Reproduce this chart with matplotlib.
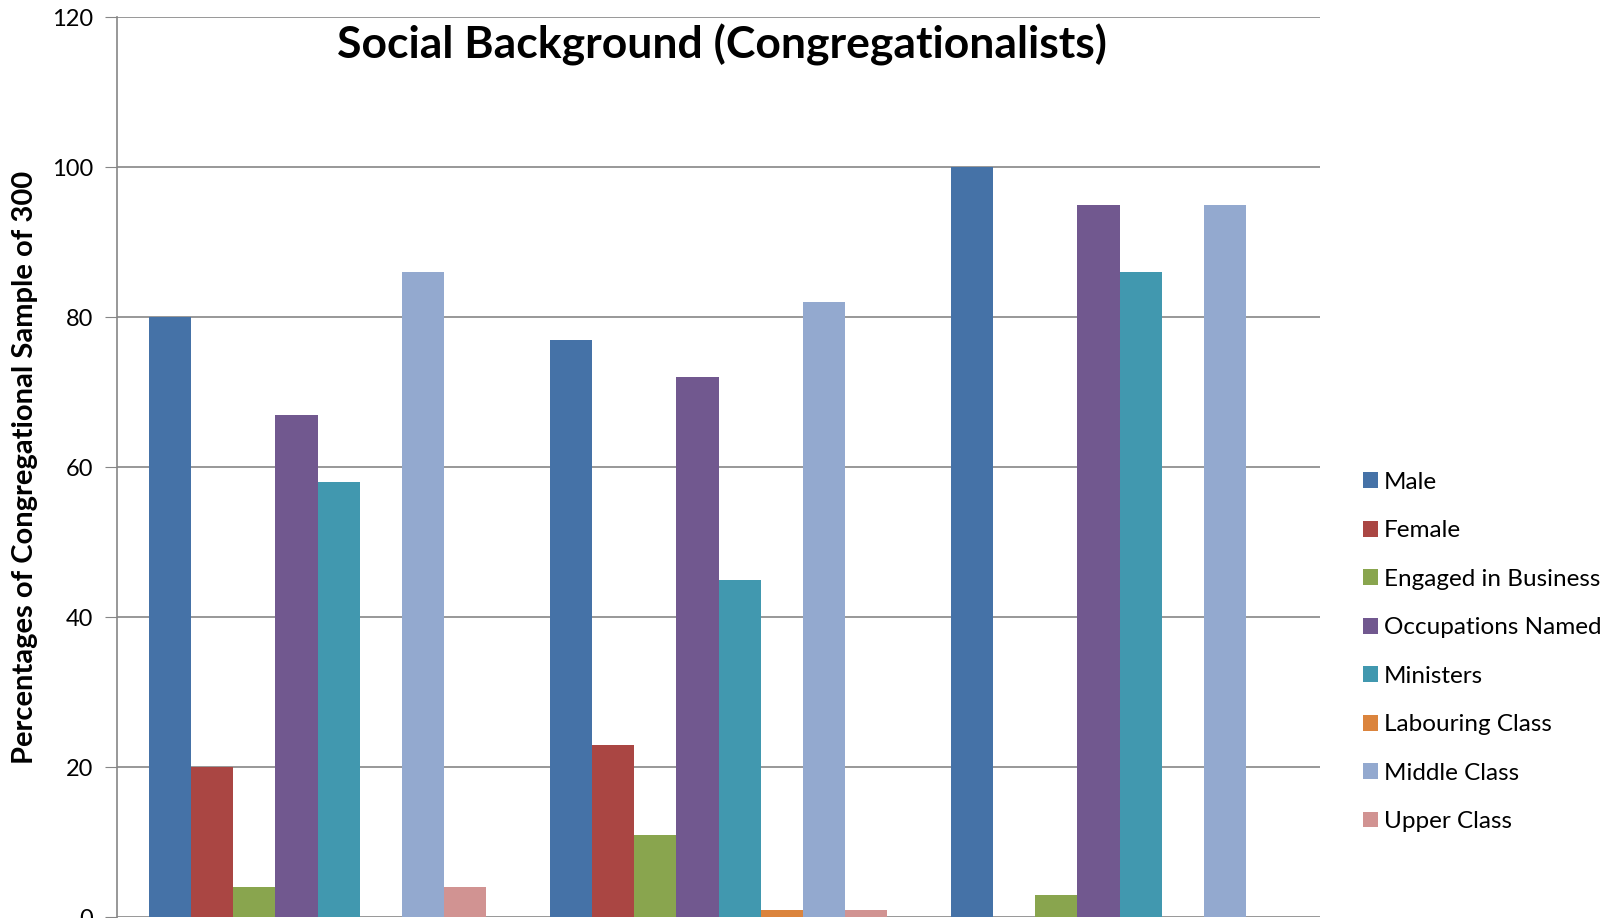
import numpy as np
import matplotlib.pyplot as plt

plt.rcParams['font.family'] = ['Lato', 'DejaVu Sans']

groups = ['Group 1', 'Group 2', 'Group 3']
series = ['Male', 'Female', 'Engaged in Business', 'Occupations Named',
          'Ministers', 'Labouring Class', 'Middle Class', 'Upper Class']
male = [80, 77, 100]
female = [20, 23, 0]
business = [4, 11, 3]
occupations = [67, 72, 95]
ministers = [58, 45, 86]
labouring = [0, 1, 0]
middle = [86, 82, 95]
upper = [4, 1, 0]
values = [male, female, business, occupations, ministers, labouring, middle, upper]
colors = ['#4572A7', '#AA4643', '#89A54E', '#71588F',
          '#4198AF', '#DB843D', '#93A9CF', '#D19392']

W, H = 1619, 918
fig = plt.figure(figsize=(W / 100, H / 100), dpi=100)
ax = fig.add_axes([117 / W, 1 / H, (1320 - 117) / W, (917 - 17) / H])

x = np.arange(len(groups))
w = 1 / 9.5
for i, (name, vals, c) in enumerate(zip(series, values, colors)):
    ax.bar(x + (i - 3.5) * w, vals, width=w, color=c, label=name, zorder=3)

ax.set_xlim(-0.5, 2.5)
ax.set_ylim(0, 120)
ax.set_yticks(range(0, 121, 20))
ax.tick_params(axis='y', labelsize=17, length=9, color='#868686', pad=8)
ax.set_xticks([])
ax.yaxis.grid(True, color='#868686', linewidth=1.2, zorder=0)
for s in ['top', 'right', 'bottom']:
    ax.spines[s].set_visible(False)
ax.spines['left'].set_color('#868686')
ax.spines['left'].set_linewidth(1.2)

fig.text(722 / W, 1 - 45 / H, 'Social Background (Congregationalists)',
         ha='center', va='center', fontsize=32, fontweight='bold')
fig.text(25 / W, 1 - 467 / H, 'Percentages of Congregational Sample of 300',
         ha='center', va='center', rotation=90, fontsize=21, fontweight='bold')

fig.legend(loc='center left', bbox_to_anchor=(1363 / W, 1 - 652 / H),
           frameon=False, fontsize=17.5, handlelength=0.62, handleheight=0.62,
           handletextpad=0.25, labelspacing=1.13, borderpad=0, borderaxespad=0)

fig.savefig('out.png', dpi=100)
